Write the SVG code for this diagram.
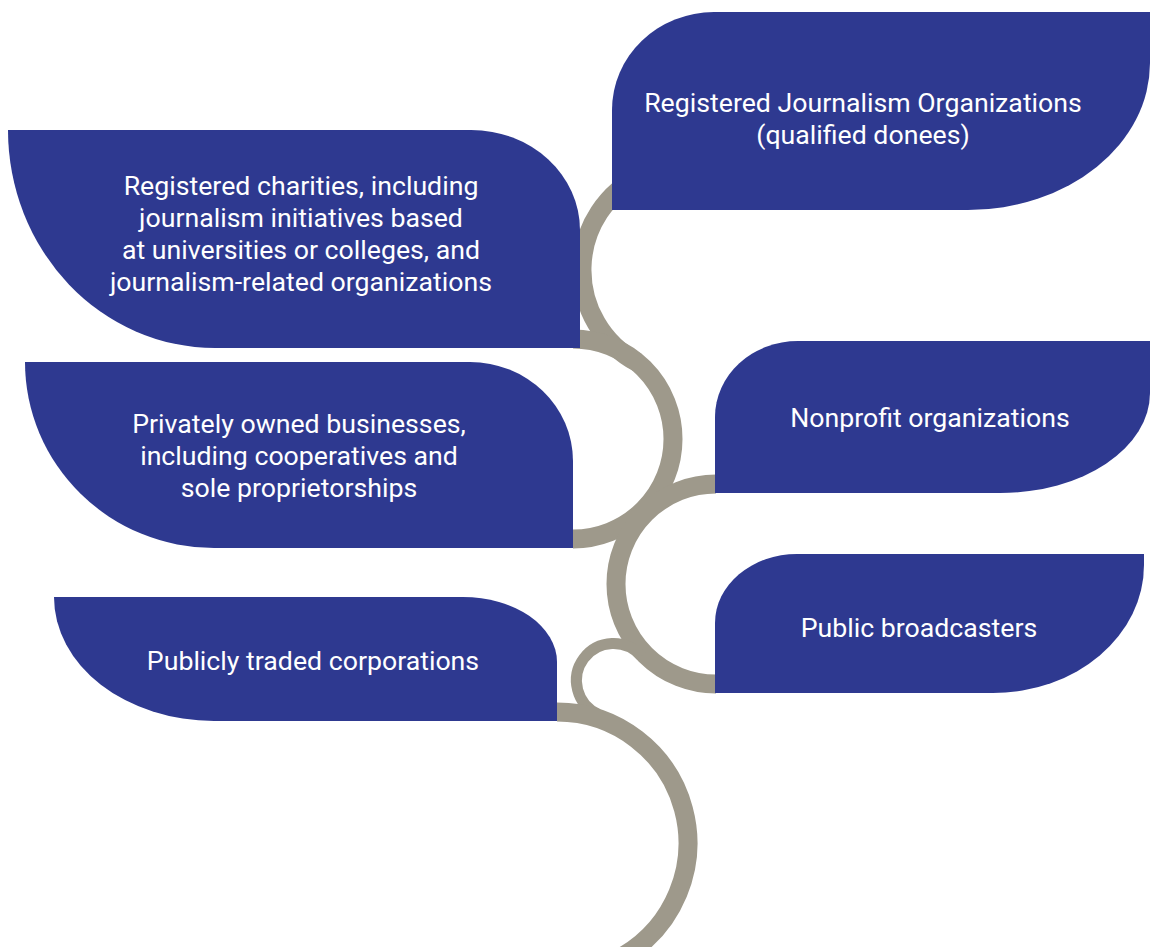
<svg xmlns="http://www.w3.org/2000/svg" width="1150" height="947" viewBox="0 0 1150 947">
<style>
.vine{fill:none;stroke:#9e998b;stroke-width:19;stroke-linecap:butt}
.thin{stroke-width:11}
.leaf{fill:#2e3990}
.lbl{font-family:Roboto,"Liberation Sans",sans-serif;font-size:26.7px;fill:#ffffff;text-anchor:middle}
</style>
<rect width="1150" height="947" fill="#ffffff"/>
<g id="connectors">
<path class="vine" d="M642.6,174.8 A105,105 0 0 0 637.7,362.7"/>
<path class="vine" d="M573,339 A100,100 0 0 1 573,539"/>
<path class="vine" d="M716,484 A100,100 0 0 0 716,684"/>
<path class="vine thin" d="M641.3,656.2 A37,37 0 1 0 598.3,714.3"/>
<path class="vine" d="M557,712 A131,131 0 0 1 622.5,956.4"/>
</g>
<g id="node-rjo">
<path class="leaf" d="M612,210 L612,110 A102,98 0 0 1 714,12 L1150,12 L1150,63 A182,147 0 0 1 968,210 Z"/>
<text class="lbl" x="863" y="112">Registered Journalism Organizations</text>
<text class="lbl" x="863" y="144">(qualified donees)</text>
</g>
<g id="node-charities">
<path class="leaf" d="M8,130 L471,130 A109,100 0 0 1 580,230 L580,348 L215,348 A207,218 0 0 1 8,130 Z"/>
<text class="lbl" x="301" y="195">Registered charities, including</text>
<text class="lbl" x="301" y="227">journalism initiatives based</text>
<text class="lbl" x="301" y="259">at universities or colleges, and</text>
<text class="lbl" x="301" y="291">journalism-related organizations</text>
</g>
<g id="node-private">
<path class="leaf" d="M25,362 L470,362 A103,99 0 0 1 573,461 L573,548 L214,548 A189,186 0 0 1 25,362 Z"/>
<text class="lbl" x="299" y="433">Privately owned businesses,</text>
<text class="lbl" x="299" y="465">including cooperatives and</text>
<text class="lbl" x="299" y="497">sole proprietorships</text>
</g>
<g id="node-nonprofit">
<path class="leaf" d="M715,493 L715,417 A83,76 0 0 1 798,341 L1150,341 L1150,393 A150,100 0 0 1 1000,493 Z"/>
<text class="lbl" x="930" y="427">Nonprofit organizations</text>
</g>
<g id="node-public-broadcasters">
<path class="leaf" d="M715,693 L715,623 A82,69 0 0 1 797,554 L1144,554 L1144,565 A151,128 0 0 1 993,693 Z"/>
<text class="lbl" x="919" y="637">Public broadcasters</text>
</g>
<g id="node-public-corps">
<path class="leaf" d="M54,597 L463,597 A94,65 0 0 1 557,662 L557,721 L214,721 A160,124 0 0 1 54,597 Z"/>
<text class="lbl" x="313" y="670">Publicly traded corporations</text>
</g>
</svg>
